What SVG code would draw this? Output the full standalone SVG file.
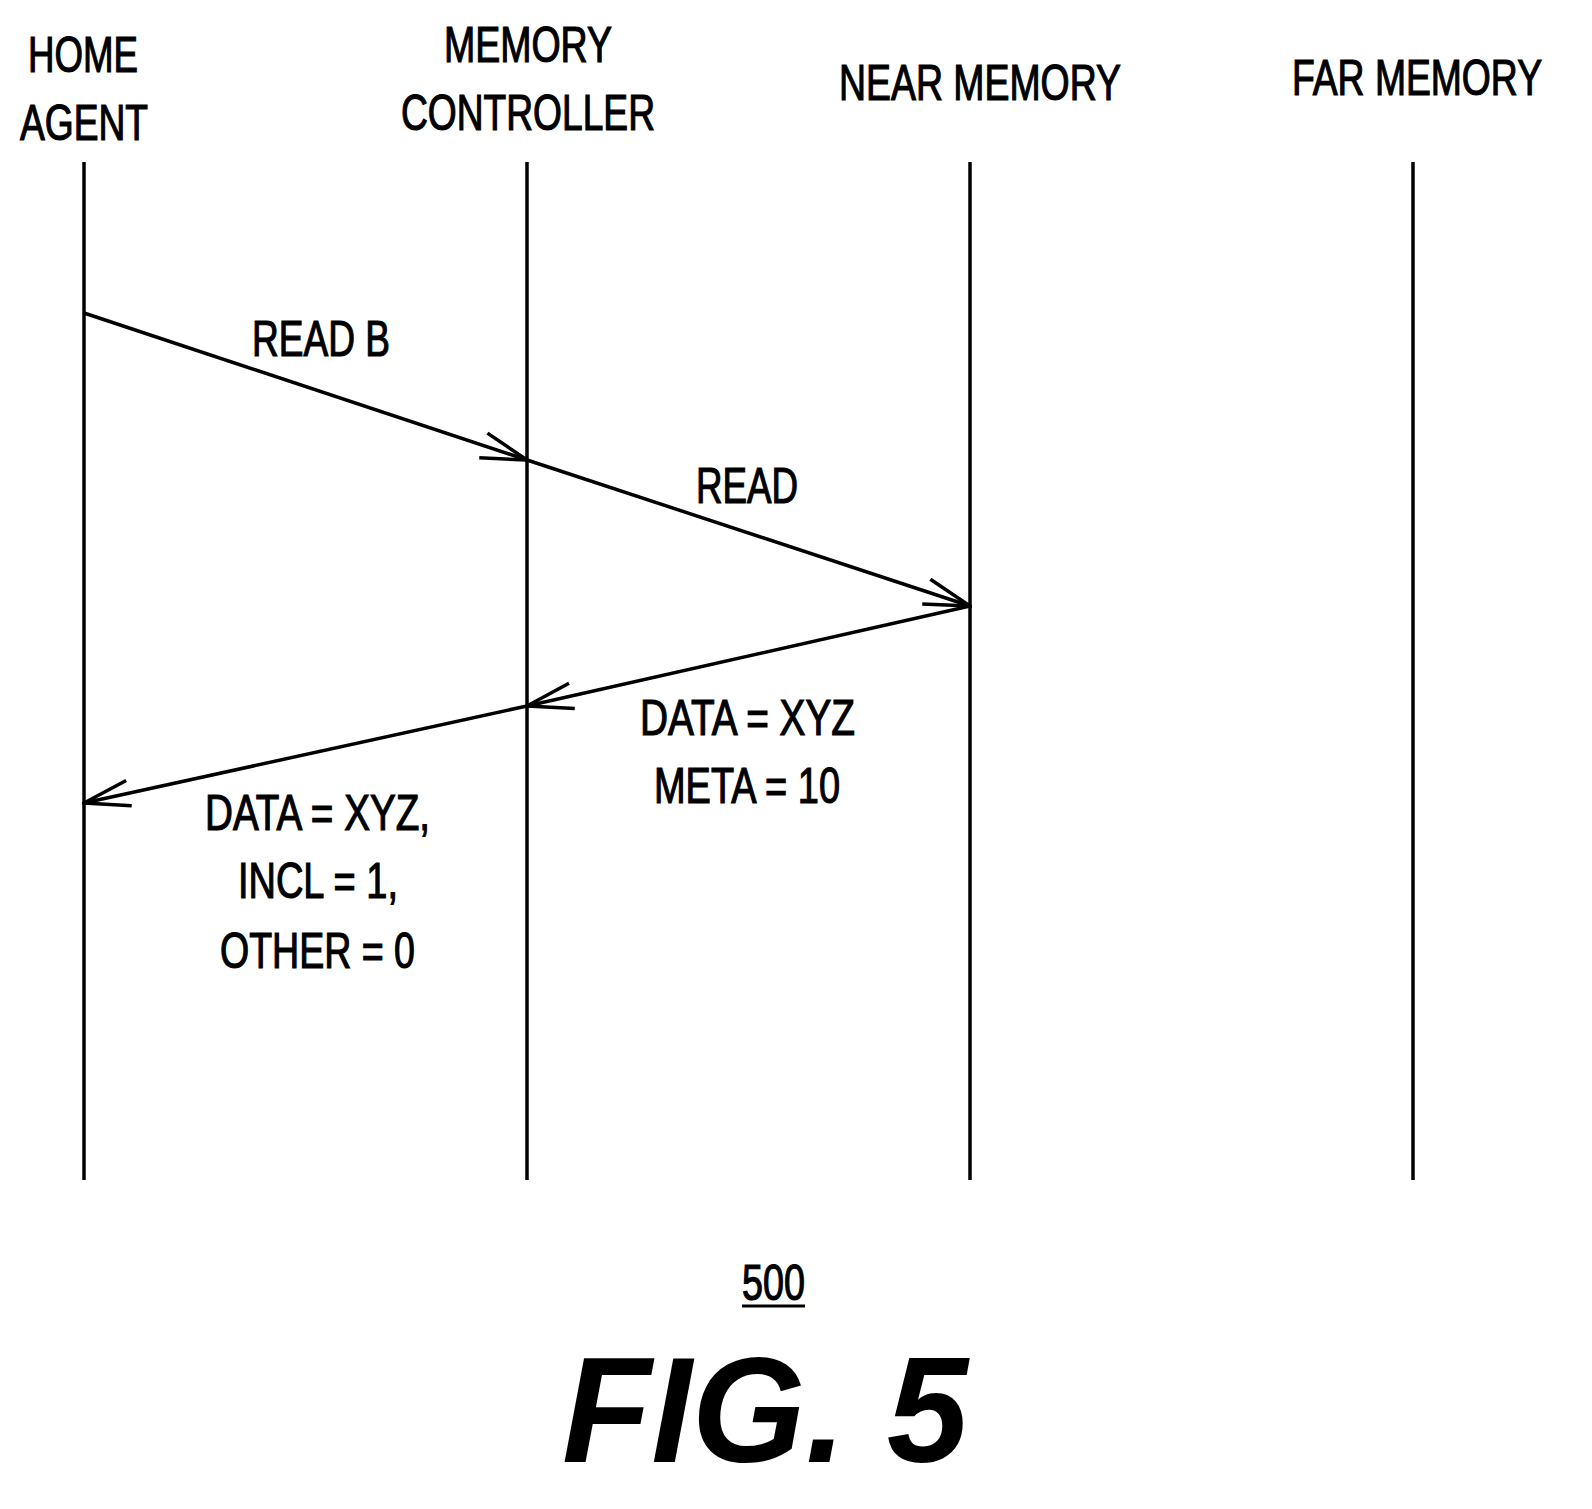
<svg xmlns="http://www.w3.org/2000/svg" width="1592" height="1509" viewBox="0 0 1592 1509">
<defs>
<style>
.t{font-family:"Liberation Sans",Arial,sans-serif;font-size:50px;fill:#000;stroke:#000;stroke-width:1.2}
.l{stroke:#000;stroke-width:3.5;fill:none}
</style>
<marker id="a" viewBox="0 0 50 30" refX="48" refY="15" markerWidth="50" markerHeight="30" markerUnits="userSpaceOnUse" orient="auto"><path d="M2,2 L48,15 L2,28" fill="none" stroke="#000" stroke-width="3.5"/></marker>
</defs>
<rect width="1592" height="1509" fill="#fff"/>
<g id="home"><text class="t" x="28" y="72" textLength="110" lengthAdjust="spacingAndGlyphs">HOME</text><text class="t" x="20" y="140" textLength="128" lengthAdjust="spacingAndGlyphs">AGENT</text><line class="l" x1="84" y1="162" x2="84" y2="1180"/></g>
<g id="mc"><text class="t" x="444" y="62" textLength="168" lengthAdjust="spacingAndGlyphs">MEMORY</text><text class="t" x="401" y="130" textLength="254" lengthAdjust="spacingAndGlyphs">CONTROLLER</text><line class="l" x1="527" y1="162" x2="527" y2="1180"/></g>
<g id="near"><text class="t" x="839" y="100" textLength="282" lengthAdjust="spacingAndGlyphs">NEAR MEMORY</text><line class="l" x1="970" y1="162" x2="970" y2="1180"/></g>
<g id="far"><text class="t" x="1292" y="95" textLength="250" lengthAdjust="spacingAndGlyphs">FAR MEMORY</text><line class="l" x1="1413" y1="162" x2="1413" y2="1180"/></g>
<g id="connectors">
<line class="l" x1="84" y1="313" x2="527" y2="460" marker-end="url(#a)"/>
<line class="l" x1="527" y1="460" x2="970" y2="606" marker-end="url(#a)"/>
<line class="l" x1="970" y1="606" x2="527" y2="706" marker-end="url(#a)"/>
<line class="l" x1="527" y1="706" x2="84" y2="803" marker-end="url(#a)"/>
</g>
<g id="labels">
<text class="t" x="252" y="356" textLength="138" lengthAdjust="spacingAndGlyphs">READ B</text>
<text class="t" x="696" y="503" textLength="102" lengthAdjust="spacingAndGlyphs">READ</text>
<text class="t" x="640" y="735" textLength="215" lengthAdjust="spacingAndGlyphs">DATA = XYZ</text>
<text class="t" x="654" y="803" textLength="186" lengthAdjust="spacingAndGlyphs">META = 10</text>
<text class="t" x="205" y="830" textLength="225" lengthAdjust="spacingAndGlyphs">DATA = XYZ,</text>
<text class="t" x="238" y="898" textLength="160" lengthAdjust="spacingAndGlyphs">INCL = 1,</text>
<text class="t" x="220" y="968" textLength="195" lengthAdjust="spacingAndGlyphs">OTHER = 0</text>
</g>
<g id="caption">
<text class="t" x="742" y="1300" textLength="63" lengthAdjust="spacingAndGlyphs" font-size="44">500</text>
<line x1="742" y1="1306" x2="805" y2="1306" stroke="#000" stroke-width="3"/>
<text x="562" y="1462" font-family="Liberation Sans,Arial,sans-serif" font-size="150" font-weight="bold" font-style="italic" textLength="406" lengthAdjust="spacingAndGlyphs">FIG. 5</text>
</g>
</svg>
